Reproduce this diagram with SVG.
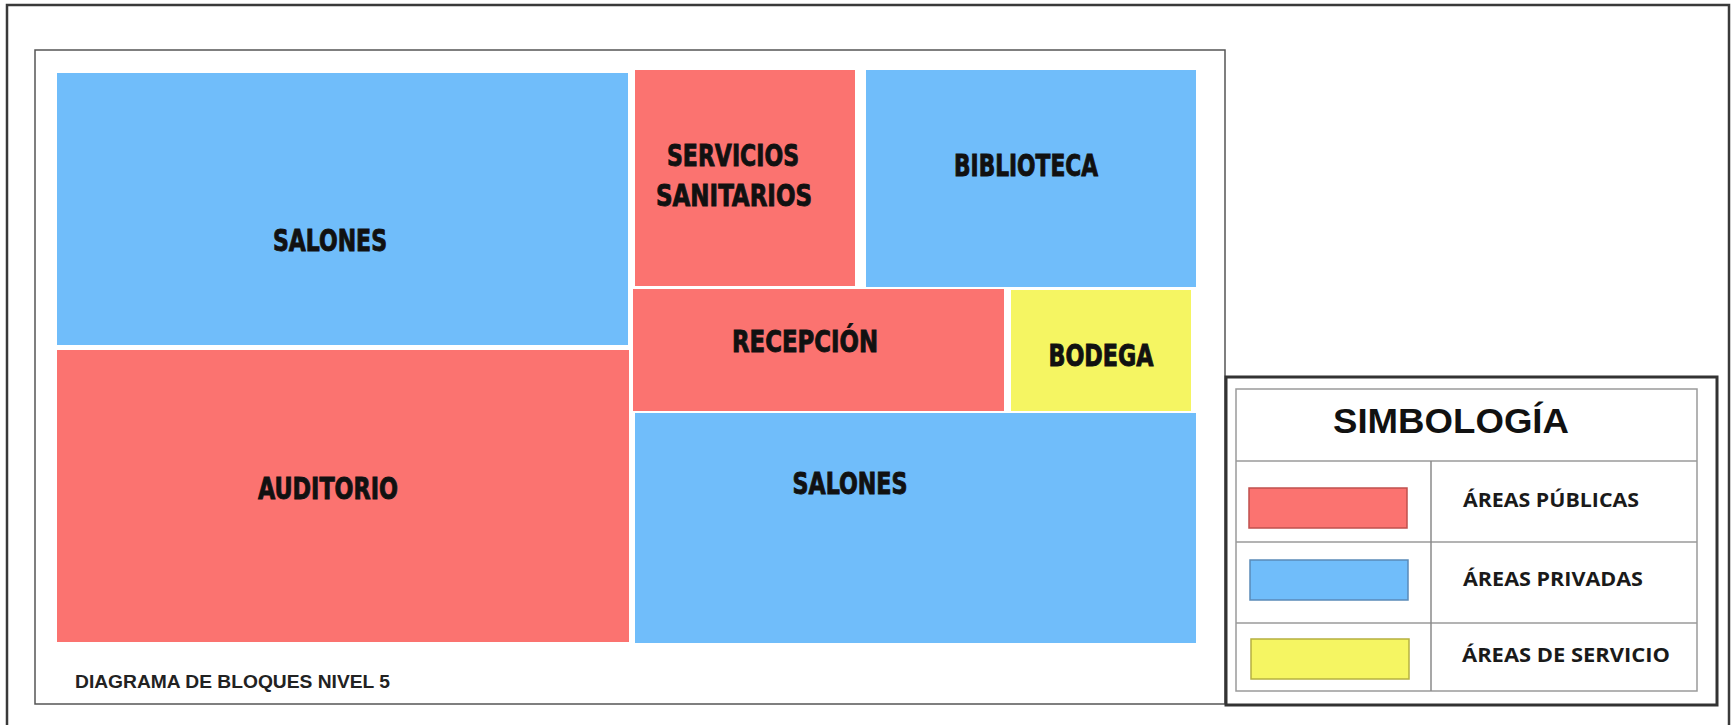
<svg xmlns="http://www.w3.org/2000/svg" width="1736" height="725" viewBox="0 0 1736 725">
  <style>
    .pub { fill: #FB7370; }
    .priv { fill: #70BDFA; }
    .serv { fill: #F5F562; }
    .blk { font-family: "Liberation Sans Narrow", "DejaVu Sans Condensed", "Liberation Sans", sans-serif; font-weight: bold; font-size: 31px; fill: #111; stroke: #111; stroke-width: 0.9px; text-anchor: middle; }
    .leg { font-family: "Open Sans", Lato, "Liberation Sans", sans-serif; font-weight: bold; font-size: 20px; fill: #1a1a1a; }
    .frame { fill: none; }
  </style>
  <rect x="0" y="0" width="1736" height="725" fill="#ffffff"/>
  <g id="outer-frame">
    <rect class="frame" x="7" y="5" width="1722" height="740" stroke="#3a3a3a" stroke-width="2.5"/>
  </g>
  <g id="plan-frame">
    <rect class="frame" x="35" y="50" width="1190" height="654" stroke="#555" stroke-width="1.5"/>
    <text x="75" y="688" font-family="'Liberation Sans', Arial, sans-serif" font-weight="bold" font-size="19" fill="#222" textLength="315" lengthAdjust="spacingAndGlyphs">DIAGRAMA DE BLOQUES NIVEL 5</text>
  </g>
  <g id="salones-1">
    <rect class="priv" x="57" y="73" width="571" height="272"/>
    <text class="blk" x="330" y="251" textLength="114" lengthAdjust="spacingAndGlyphs">SALONES</text>
  </g>
  <g id="auditorio">
    <rect class="pub" x="57" y="350" width="572" height="292"/>
    <text class="blk" x="328" y="499" textLength="140" lengthAdjust="spacingAndGlyphs">AUDITORIO</text>
  </g>
  <g id="servicios-sanitarios">
    <rect class="pub" x="635" y="70" width="220" height="216"/>
    <text class="blk" x="733" y="166" textLength="132" lengthAdjust="spacingAndGlyphs">SERVICIOS</text>
    <text class="blk" x="734" y="206" textLength="156" lengthAdjust="spacingAndGlyphs">SANITARIOS</text>
  </g>
  <g id="biblioteca">
    <rect class="priv" x="866" y="70" width="330" height="217"/>
    <text class="blk" x="1026" y="176" textLength="144" lengthAdjust="spacingAndGlyphs">BIBLIOTECA</text>
  </g>
  <g id="recepcion">
    <rect class="pub" x="633" y="289" width="371" height="122"/>
    <text class="blk" x="805" y="352" textLength="146" lengthAdjust="spacingAndGlyphs">RECEPCIÓN</text>
  </g>
  <g id="bodega">
    <rect class="serv" x="1011" y="290" width="180" height="121"/>
    <text class="blk" x="1101" y="366" textLength="105" lengthAdjust="spacingAndGlyphs">BODEGA</text>
  </g>
  <g id="salones-2">
    <rect class="priv" x="635" y="413" width="561" height="230"/>
    <text class="blk" x="850" y="494" textLength="115" lengthAdjust="spacingAndGlyphs">SALONES</text>
  </g>
  <g id="connectors"/>
  <g id="legend">
    <rect class="frame" x="1226" y="377" width="491" height="328" stroke="#333" stroke-width="3"/>
    <rect x="1236" y="389" width="461" height="302" fill="#fff" stroke="#9a9a9a" stroke-width="1.5"/>
    <line x1="1236" y1="461" x2="1697" y2="461" stroke="#9a9a9a" stroke-width="1.5"/>
    <line x1="1236" y1="542" x2="1697" y2="542" stroke="#9a9a9a" stroke-width="1.5"/>
    <line x1="1236" y1="623" x2="1697" y2="623" stroke="#9a9a9a" stroke-width="1.5"/>
    <line x1="1431" y1="461" x2="1431" y2="691" stroke="#8a8a8a" stroke-width="1.5"/>
    <text x="1451" y="433" font-family="'Liberation Sans', Arial, sans-serif" font-weight="bold" font-size="35" fill="#111" text-anchor="middle" textLength="236" lengthAdjust="spacingAndGlyphs">SIMBOLOGÍA</text>
    <rect class="pub" x="1249" y="488" width="158" height="40" stroke="#c0504d" stroke-width="1.5"/>
    <rect class="priv" x="1250" y="560" width="158" height="40" stroke="#5a8ab8" stroke-width="1.5"/>
    <rect class="serv" x="1251" y="639" width="158" height="40" stroke="#b5b040" stroke-width="1.5"/>
    <text class="leg" x="1463" y="507" textLength="176" lengthAdjust="spacingAndGlyphs">ÁREAS PÚBLICAS</text>
    <text class="leg" x="1463" y="586" textLength="180" lengthAdjust="spacingAndGlyphs">ÁREAS PRIVADAS</text>
    <text class="leg" x="1462" y="662" textLength="208" lengthAdjust="spacingAndGlyphs">ÁREAS DE SERVICIO</text>
  </g>
</svg>
